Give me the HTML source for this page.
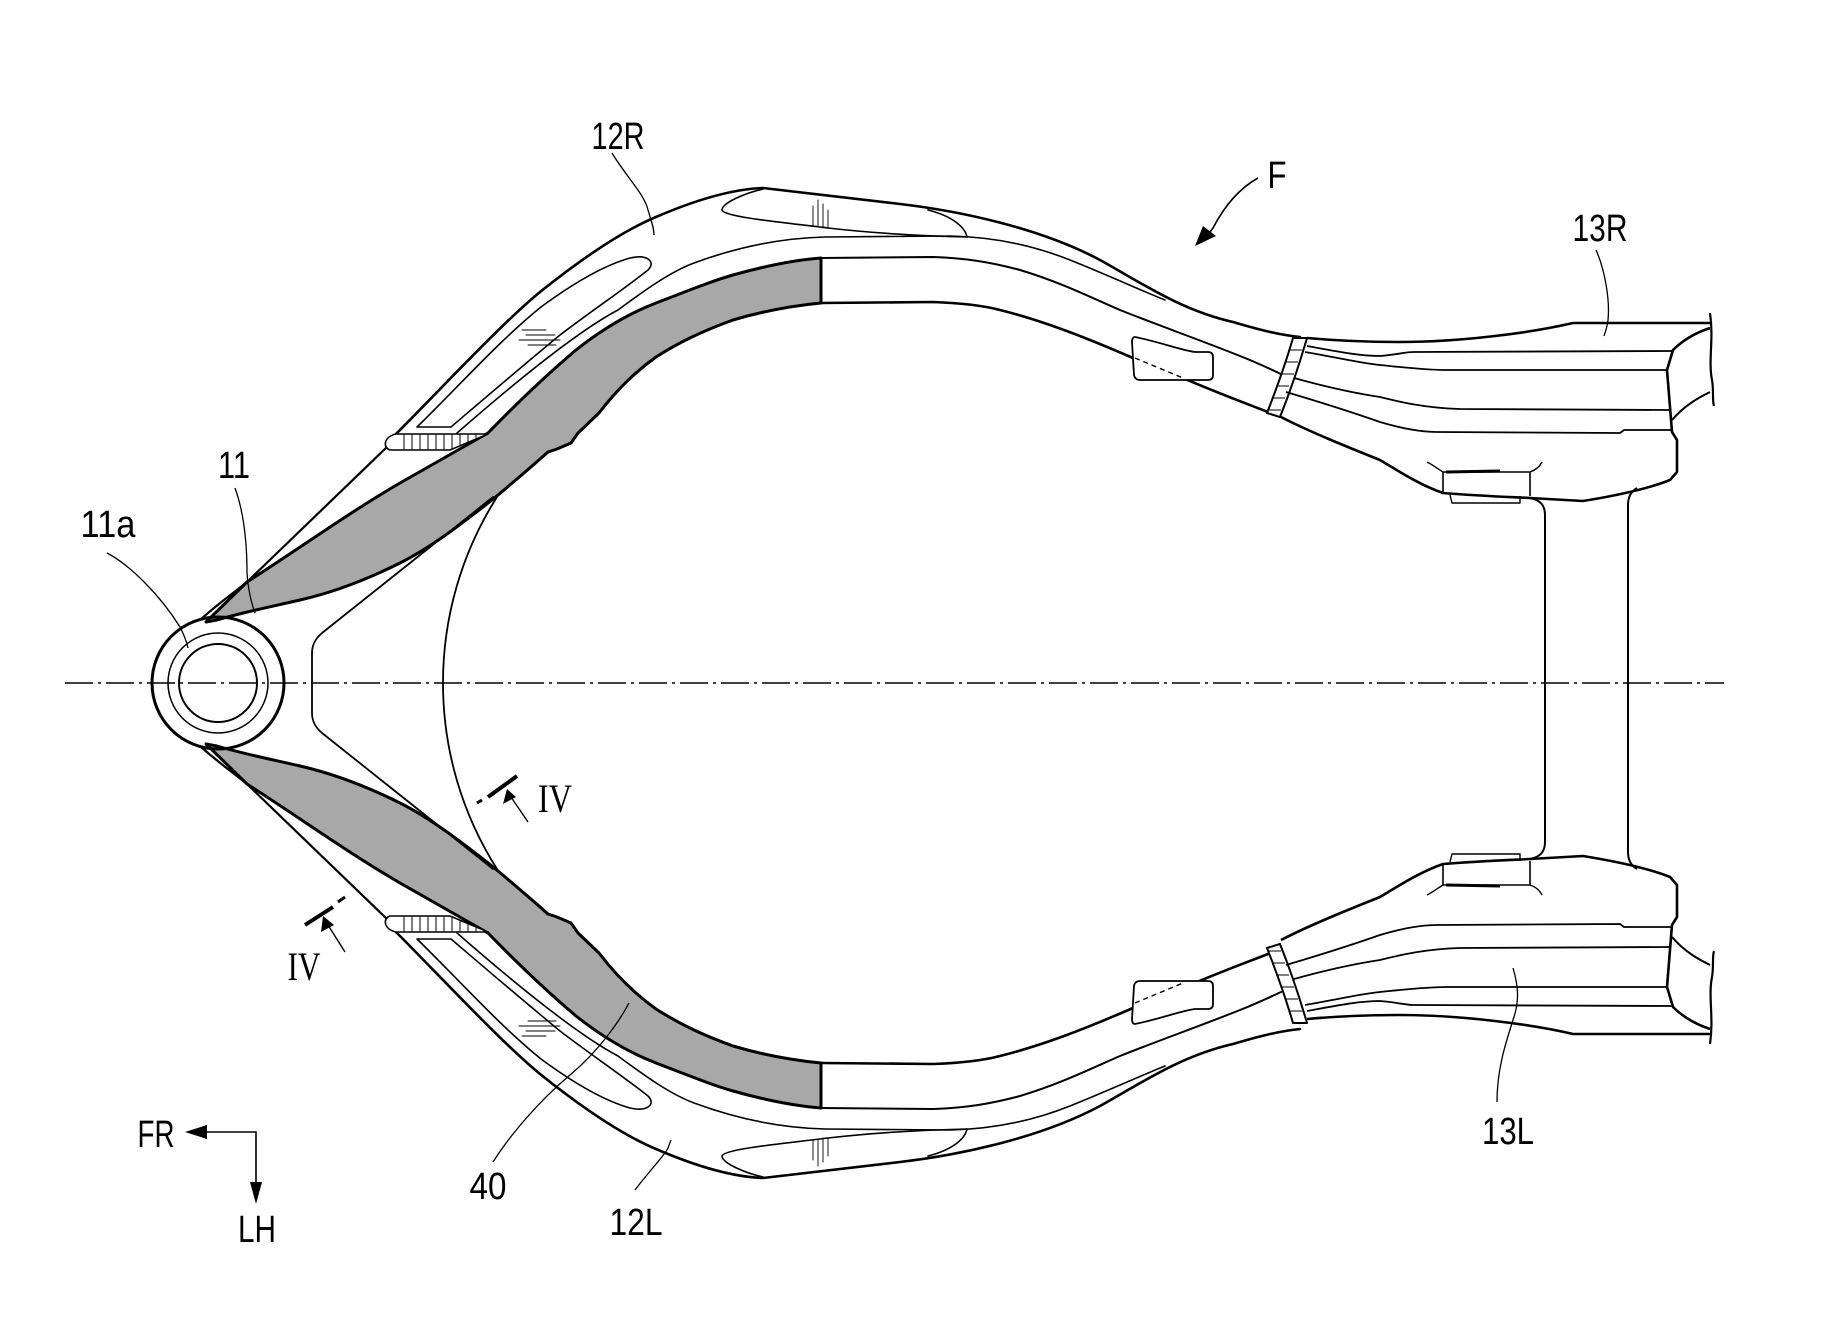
<!DOCTYPE html>
<html>
<head>
<meta charset="utf-8">
<style>
  html,body{margin:0;padding:0;background:#fff;}
  svg{display:block;}
  .t{font-family:"Liberation Sans", Arial, sans-serif;font-size:38px;fill:#000;}
  .s{font-family:"Liberation Serif", "Times New Roman", serif;font-size:40px;fill:#000;}
</style>
</head>
<body>
<svg width="1843" height="1339" viewBox="0 0 1843 1339" xmlns="http://www.w3.org/2000/svg">
<rect x="0" y="0" width="1843" height="1339" fill="#fff"/>
<defs>
  <!-- left/top symmetric half (mirrored about y=683) -->
  <g id="L" fill="none" stroke="#000" stroke-linejoin="round" stroke-linecap="round">
    <!-- shaded member 40 -->
    <path d="M 206,622 L 247,582 C 300,548 350,512 400,483 L 488,433 C 520,400 550,372 576,350 C 605,327 630,313 656,303 C 690,290 712,281 733,275 C 765,266 795,260 821,258 L 821,303 C 790,306 760,312 733,320 C 700,332 678,343 656,357 C 635,372 615,392 599,413 L 578,433 L 571,443 L 557,449 L 548,452 C 530,468 510,485 492,500 C 460,525 430,548 400,563 C 370,578 335,592 300,600 C 265,608 240,613 217,620 Z" fill="#a8a8a8" stroke-width="3"/>
    <!-- outer edge A -->
    <path d="M 200,620 C 220,602 235,592 247,582 L 388,446" stroke-width="2.2"/>
    <path d="M 394,436 C 440,390 500,325 540,292 C 580,260 620,232 656,217 C 700,198 735,189 763,188 L 900,204 C 960,211 1040,228 1100,260 C 1140,282 1180,310 1233,322 C 1260,330 1280,335 1300,337" stroke-width="2.6"/>
    <!-- B -->
    <path d="M 457,433 C 520,378 580,330 618,310 C 645,290 670,272 694,263 C 740,246 785,238 825,237 L 950,236 C 1000,237 1040,248 1070,260 C 1110,276 1140,290 1165,300" stroke-width="1.6"/>
    <!-- c ext -->
    <path d="M 821,258 L 933,257 C 965,258 990,262 1020,270 C 1060,282 1090,297 1120,310 C 1160,326 1200,340 1240,356 C 1258,363 1270,369 1281,374" stroke-width="2"/>
    <!-- d ext -->
    <path d="M 821,303 L 933,302 C 960,303 985,306 1000,310 C 1040,320 1080,335 1133,358 L 1183,378 C 1215,392 1245,403 1268,412" stroke-width="2.6"/>
    <!-- hub Y line -->
    <path d="M 493,497 L 322,633 C 315,639 312,645 312,653 L 312,683" stroke-width="1.8"/>
    <!-- big arc -->
    <path d="M 497,497 A 347 347 0 0 0 443,683" stroke-width="1.8"/>
    <!-- weld bead -->
    <path d="M 390,450 C 383,448 383,437 396,434 L 488,434 L 450,450 Z" fill="#fff" stroke-width="1.6"/>
    <path d="M 404,435 V 449 M 412,435 V 449 M 420,435 V 449 M 428,435 V 449 M 436,435 V 449 M 444,435 V 449 M 452,435 V 448 M 460,435 V 445 M 468,435 V 442 M 476,435 V 439" stroke-width="1"/>
    <!-- slot -->
    <path d="M 417,427 C 460,385 500,340 541,307 C 575,282 605,265 630,258 C 648,254 656,262 648,270 C 620,292 590,312 560,335 C 520,368 485,398 451,427 Z" stroke-width="1.6"/>
    <path d="M 522,330 H 546 M 526,335 H 555 M 519,340 H 560 M 528,345 H 556" stroke-width="0.9"/>
    <!-- upper pointed recess -->
    <path d="M 763,189 C 745,193 722,203 722,210 C 724,217 780,222 828,228 C 880,234 925,236 967,237" stroke-width="1.6"/>
    <path d="M 928,210 C 952,216 965,227 967,237" stroke-width="1.6"/>
    <path d="M 813,206 V 226 M 818,200 V 227 M 823,204 V 228 M 828,210 V 228" stroke-width="0.9"/>
  </g>

  <!-- middle parts (pad, weld bar) mirrored about y=680.5 -->
  <g id="M" fill="none" stroke="#000" stroke-linejoin="round">
    <path d="M 1135,337 C 1160,342 1180,350 1195,352 L 1208,352 Q 1213,352 1213,357 L 1213,375 Q 1213,380 1208,380 L 1140,380 Q 1135,380 1134,375 L 1132,342 Q 1132,337 1135,337 Z" fill="#fff" stroke-width="1.8"/>
    <path d="M 1135,358 L 1183,378" stroke-width="1.4" stroke-dasharray="5 4"/>
    <path d="M 1267,413 C 1276,390 1286,362 1293,338 L 1307,338 C 1300,362 1290,392 1280,417 Z" fill="#fff" stroke-width="2"/>
    <path d="M 1289,350 H 1302 M 1285,362 H 1298 M 1281,374 H 1294 M 1276,386 H 1289 M 1272,398 H 1285 M 1268,410 H 1281" stroke-width="1"/>
  </g>

  <!-- right parts (13R / 13L, bracket) mirrored about y=678.5 -->
  <g id="R" fill="none" stroke="#000" stroke-linejoin="round">
    <path d="M 1307,338 C 1340,341 1370,342 1400,342 C 1460,342 1530,333 1573,323 L 1712,323" stroke-width="2.6"/>
    <path d="M 1307,346 C 1340,352 1360,356 1380,356 C 1395,355 1405,352 1413,352 L 1672,351" stroke-width="1.8"/>
    <path d="M 1305,352 C 1340,358 1360,363 1380,365 C 1400,367 1425,370 1447,370 L 1667,370" stroke-width="1.8"/>
    <path d="M 1294,378 C 1330,388 1360,394 1380,397 C 1400,402 1425,408 1460,409 L 1670,410" stroke-width="1.8"/>
    <path d="M 1286,392 C 1330,405 1360,415 1380,422 C 1400,428 1420,432 1437,432 L 1620,433 L 1624,430 L 1672,430" stroke-width="1.8"/>
    <path d="M 1281,417 C 1310,432 1350,448 1380,460 C 1400,472 1420,485 1443,493 C 1480,496 1510,497 1530,498 L 1583,501 C 1620,495 1650,488 1670,480 L 1677,472 L 1677,440 L 1672,432 L 1667,370 L 1673,350 C 1685,338 1698,332 1710,328" stroke-width="2.6"/>
    <path d="M 1672,420 C 1685,405 1698,398 1710,392" stroke-width="2"/>
    <path d="M 1710,313 C 1714,340 1708,360 1712,380 C 1714,392 1712,400 1714,406" stroke-width="2.2"/>
    <!-- bracket -->
    <path d="M 1443,493 L 1443,472 L 1530,472 L 1530,496" stroke-width="1.6"/>
    <path d="M 1446,472 L 1500,471" stroke-width="3"/>
    <path d="M 1450,495 L 1452,503 L 1520,503 L 1520,496" stroke-width="1.4"/>
    <path d="M 1427,462 C 1433,465 1438,469 1443,472 M 1530,472 C 1536,470 1540,466 1542,462" stroke-width="1.4"/>
    <!-- cross member -->
    <path d="M 1530,498 C 1540,500 1545,505 1545,515 L 1545,679" stroke-width="2"/>
    <path d="M 1637,488 C 1630,492 1628,498 1628,505 L 1628,679" stroke-width="2"/>
  </g>
</defs>

<use href="#L"/>
<use href="#L" transform="matrix(1 0 0 -1 0 1366)"/>
<use href="#M"/>
<use href="#M" transform="matrix(1 0 0 -1 0 1361)"/>
<use href="#R"/>
<use href="#R" transform="matrix(1 0 0 -1 0 1357)"/>

<!-- hub 11 -->
<g fill="none" stroke="#000">
  <circle cx="218" cy="683" r="66" stroke-width="3"/>
  <circle cx="218" cy="683" r="50" stroke-width="1.5"/>
  <circle cx="218" cy="683" r="39" stroke-width="2"/>
  <path d="M 443,683 L 443,683" stroke-width="1.8"/>
</g>

<!-- centerline -->
<line x1="65" y1="683" x2="1724" y2="683" stroke="#000" stroke-width="1.5" stroke-dasharray="28 5 3 5"/>

<!-- leaders -->
<g fill="none" stroke="#000" stroke-width="1.3">
  <path d="M 612,153 C 625,175 645,195 648,210 C 651,220 654,228 654,235"/>
  <path d="M 1596,250 C 1605,270 1610,300 1608,320 C 1607,328 1605,333 1604,336"/>
  <path d="M 235,488 C 243,510 247,540 247,573 C 248,590 252,605 255,613"/>
  <path d="M 107,553 C 130,565 160,595 180,627 C 185,637 187,643 188,648"/>
  <path d="M 493,1162 C 510,1135 540,1100 570,1075 C 600,1050 620,1020 629,1003"/>
  <path d="M 635,1190 C 650,1170 665,1155 668,1148 L 671,1140"/>
  <path d="M 1513,968 C 1518,985 1520,1000 1513,1020 C 1505,1045 1497,1070 1497,1102"/>
  <path d="M 1258,178 C 1240,188 1225,205 1213,228 L 1204,240" stroke-width="1.6"/>
</g>
<polygon points="1195,246 1203,226 1216,236" fill="#000"/>

<!-- section marks IV -->
<g stroke="#000" fill="none">
  <line x1="477" y1="803" x2="482" y2="800" stroke-width="3"/>
  <line x1="488" y1="797" x2="517" y2="776" stroke-width="4"/>
  <line x1="528" y1="822" x2="511" y2="797" stroke-width="1.4"/>
  <line x1="305" y1="925" x2="333" y2="907" stroke-width="4"/>
  <line x1="338" y1="902" x2="345" y2="897" stroke-width="3"/>
  <line x1="345" y1="952" x2="328" y2="925" stroke-width="1.4"/>
</g>
<polygon points="507,789 503,804 516,797" fill="#000"/>
<polygon points="323,916 321,932 334,925" fill="#000"/>

<!-- FR / LH arrows -->
<g stroke="#000" fill="none" stroke-width="1.6">
  <path d="M 205,1132 L 256,1132 L 256,1184"/>
</g>
<polygon points="185,1132 207,1125 207,1139" fill="#000"/>
<polygon points="256,1204 250,1182 262,1182" fill="#000"/>

<!-- labels -->
<text class="t" x="618" y="149" text-anchor="middle" textLength="53" lengthAdjust="spacingAndGlyphs">12R</text>
<text class="t" x="1277" y="188" text-anchor="middle" font-size="36" textLength="19" lengthAdjust="spacingAndGlyphs">F</text>
<text class="t" x="1600" y="241" text-anchor="middle" textLength="55" lengthAdjust="spacingAndGlyphs">13R</text>
<text class="t" x="234" y="478" text-anchor="middle" font-size="35" textLength="32" lengthAdjust="spacingAndGlyphs">11</text>
<text class="t" x="108" y="537" text-anchor="middle" font-size="35" textLength="55" lengthAdjust="spacingAndGlyphs">11a</text>
<text class="s" x="555" y="812" text-anchor="middle" textLength="34" lengthAdjust="spacingAndGlyphs">IV</text>
<text class="s" x="304" y="980" text-anchor="middle" textLength="33" lengthAdjust="spacingAndGlyphs">IV</text>
<text class="t" x="156" y="1147" text-anchor="middle" textLength="37" lengthAdjust="spacingAndGlyphs">FR</text>
<text class="t" x="257" y="1242" text-anchor="middle" textLength="38" lengthAdjust="spacingAndGlyphs">LH</text>
<text class="t" x="488" y="1199" text-anchor="middle" textLength="37" lengthAdjust="spacingAndGlyphs">40</text>
<text class="t" x="636" y="1235" text-anchor="middle" textLength="53" lengthAdjust="spacingAndGlyphs">12L</text>
<text class="t" x="1508" y="1144" text-anchor="middle" textLength="52" lengthAdjust="spacingAndGlyphs">13L</text>
</svg>
</body>
</html>
